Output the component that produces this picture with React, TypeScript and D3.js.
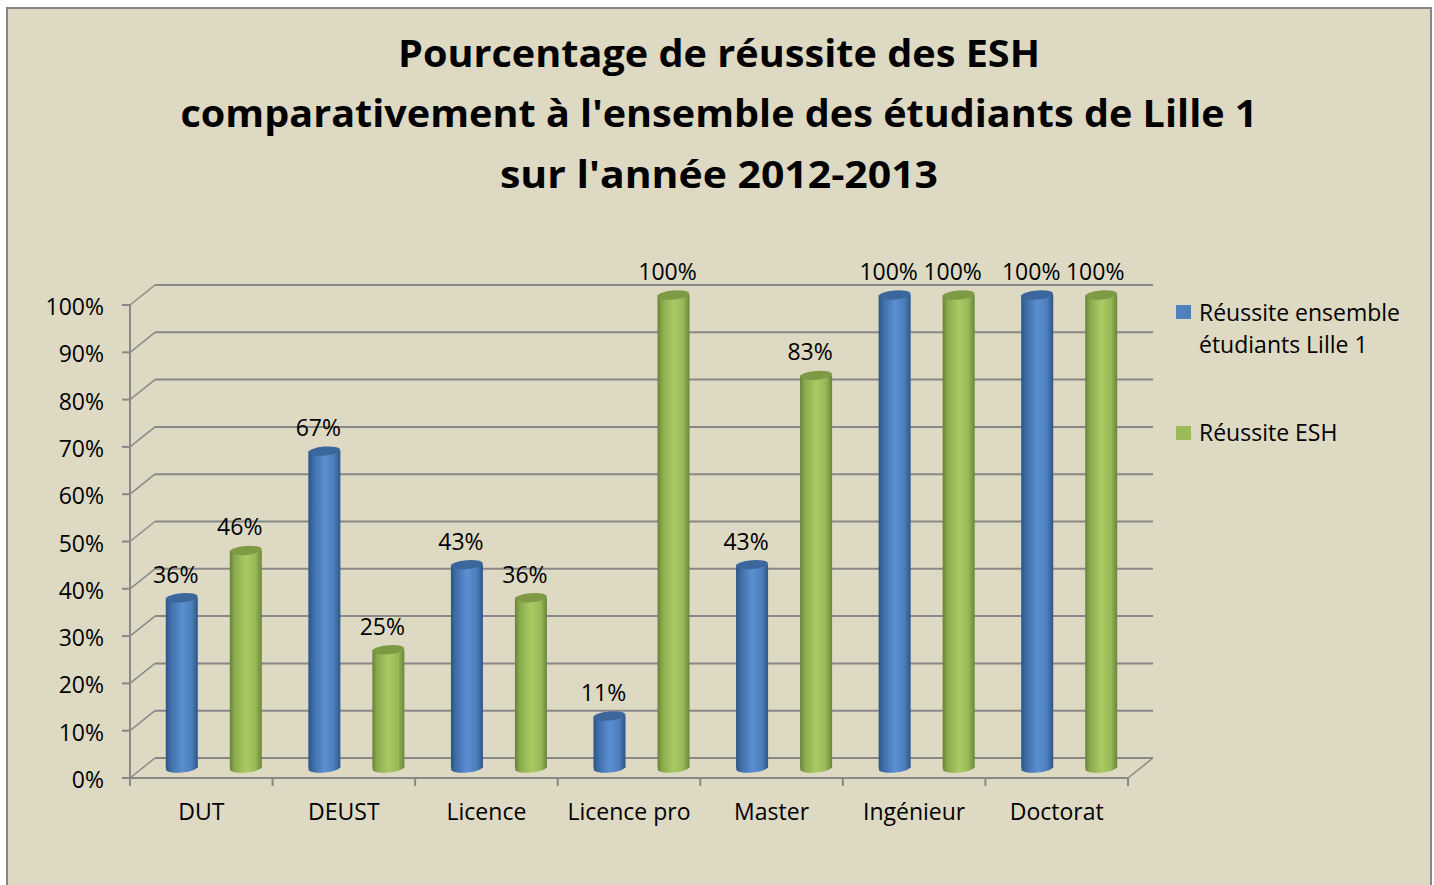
import React from "react";
import * as d3 from "d3";

const categories = ["DUT", "DEUST", "Licence", "Licence pro", "Master", "Ingénieur", "Doctorat"];
const seriesNames = ["Réussite ensemble étudiants Lille 1", "Réussite ESH"];
const lilleValues = [36, 67, 43, 11, 43, 100, 100];
const eshValues = [46, 25, 36, 100, 83, 100, 100];
const yTicks = [0, 10, 20, 30, 40, 50, 60, 70, 80, 90, 100];
const titleLines = [
  "Pourcentage de réussite des ESH",
  "comparativement à l'ensemble des étudiants de Lille 1",
  "sur l'année 2012-2013",
];
const titleWidths = [642, 1077, 438];

const W = 1434;
const H = 885;
const FONT = "'Open Sans', 'Noto Sans', sans-serif";
const GRID = "#888888";
const BG = "#DDD9C3";
const FS = 23;

const DX = 25;
const DY = -20;

export default function App() {
  const x = d3.scaleBand<string>().domain(categories).range([130, 1128]).paddingInner(0).paddingOuter(0);
  const y = d3.scaleLinear().domain([0, 100]).range([778, 305]);
  const bw = x.bandwidth();
  const r = 16;
  const ry = 4.5;
  const off = 32;

  const series = [
    { name: seriesNames[0], values: lilleValues, grad: "gBlue", top: "#3C679C", sw: "#4F81BD", shift: -off },
    { name: seriesNames[1], values: eshValues, grad: "gGreen", top: "#7E9A45", sw: "#9BBB59", shift: off },
  ];

  return (
    <svg width={W} height={H} style={{ position: "absolute", left: 0, top: 0 }} fontFamily={FONT}>
      <defs>
        <linearGradient id="gBlue" x1="0" x2="1" y1="0" y2="0">
          <stop offset="0" stopColor="#2B5485" />
          <stop offset="0.15" stopColor="#3E6EA8" />
          <stop offset="0.5" stopColor="#5B8FD2" />
          <stop offset="0.8" stopColor="#4D7FBD" />
          <stop offset="1" stopColor="#2E5686" />
        </linearGradient>
        <linearGradient id="gGreen" x1="0" x2="1" y1="0" y2="0">
          <stop offset="0" stopColor="#67823A" />
          <stop offset="0.15" stopColor="#89AB4D" />
          <stop offset="0.5" stopColor="#A9CA63" />
          <stop offset="0.8" stopColor="#98B958" />
          <stop offset="1" stopColor="#6A8739" />
        </linearGradient>
      </defs>
      <rect x={0} y={0} width={W} height={H} fill="#ffffff" />
      <rect x={7} y={8} width={1424} height={H + 10} fill={BG} stroke="#868686" strokeWidth={2} />

      {/* title */}
      {titleLines.map((t, i) => (
        <text
          key={i}
          x={719}
          y={[67, 127, 188][i]}
          textAnchor="middle"
          fontSize={38}
          fontWeight="bold"
          fill="#000"
          textLength={titleWidths[i]}
          lengthAdjust="spacingAndGlyphs"
        >
          {t}
        </text>
      ))}

      {/* back wall gridlines and side diagonals */}
      {yTicks.map((t) => (
        <g key={t}>
          <line x1={130 + DX} x2={1128 + DX} y1={y(t) + DY} y2={y(t) + DY} stroke={GRID} strokeWidth={2} />
          <line x1={130} x2={130 + DX} y1={y(t)} y2={y(t) + DY} stroke={GRID} strokeWidth={1.5} />
          <line x1={122} x2={130} y1={y(t)} y2={y(t)} stroke={GRID} strokeWidth={2} />
          <text x={104} y={y(t) + 10} textAnchor="end" fontSize={FS} fill="#000">
            {t}%
          </text>
        </g>
      ))}
      {/* floor */}
      <line x1={130} x2={1128} y1={y(0)} y2={y(0)} stroke={GRID} strokeWidth={2} />
      <line x1={1128} x2={1128 + DX} y1={y(0)} y2={y(0) + DY} stroke={GRID} strokeWidth={1.5} />
      <line x1={130} x2={130} y1={y(100)} y2={786} stroke={GRID} strokeWidth={2} />
      {x.domain().map((c) => (
        <line key={c} x1={x(c)! + bw} x2={x(c)! + bw} y1={y(0)} y2={786} stroke={GRID} strokeWidth={2} />
      ))}

      {/* category labels */}
      {categories.map((c) => (
        <text key={c} x={x(c)! + bw / 2} y={820} textAnchor="middle" fontSize={FS} fill="#000">
          {c}
        </text>
      ))}

      {/* cylinders */}
      {categories.map((c, i) => (
        <g key={c}>
          {series.map((s) => {
            const cx = x(c)! + bw / 2 + DX / 2 + s.shift;
            const base = y(0) + DY / 2;
            const top = y(s.values[i]) + DY / 2;
            return (
              <g key={s.name}>
                <ellipse cx={cx} cy={base} rx={r} ry={ry} fill={`url(#${s.grad})`} transform={`rotate(-5 ${cx} ${base})`} />
                <rect x={cx - r} y={top} width={2 * r} height={base - top} fill={`url(#${s.grad})`} />
                <ellipse cx={cx} cy={top} rx={r} ry={ry} fill={s.top} transform={`rotate(-5 ${cx} ${top})`} />
                <text x={cx - 6} y={top - 15} textAnchor="middle" fontSize={FS} fill="#000">
                  {s.values[i]}%
                </text>
              </g>
            );
          })}
        </g>
      ))}

      {/* legend */}
      <rect x={1176} y={305} width={15} height={14} fill="#4F81BD" />
      <text x={1199} y={321} fontSize={FS} fill="#000">Réussite ensemble</text>
      <text x={1199} y={353} fontSize={FS} fill="#000">étudiants Lille 1</text>
      <rect x={1176} y={426} width={15} height={14} fill="#9BBB59" />
      <text x={1199} y={441} fontSize={FS} fill="#000">Réussite ESH</text>
    </svg>
  );
}
